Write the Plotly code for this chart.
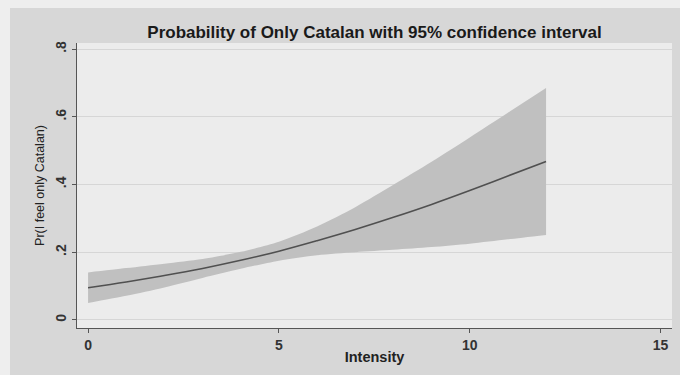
import plotly.graph_objects as go

# Predicted probability of feeling "only Catalan" by intensity, with 95% CI
intensity = [0, 1, 2, 3, 4, 5, 6, 7, 8, 9, 10, 11, 12]
prob = [0.095, 0.112, 0.131, 0.152, 0.176, 0.203, 0.234, 0.267, 0.303, 0.341, 0.382, 0.425, 0.468]
ci_upper = [0.140, 0.153, 0.166, 0.180, 0.201, 0.231, 0.276, 0.333, 0.399, 0.467, 0.539, 0.612, 0.685]
ci_lower = [0.050, 0.071, 0.096, 0.124, 0.151, 0.175, 0.191, 0.200, 0.207, 0.215, 0.225, 0.238, 0.251]

x_ticks = [0, 5, 10, 15]
y_ticks = [0, 0.2, 0.4, 0.6, 0.8]
y_tick_text = ["0", ".2", ".4", ".6", ".8"]

SANS = "Liberation Sans, Arial, sans-serif"
BAND = "#c0c0c0"
LINE = "#505050"

fig = go.Figure()

fig.add_trace(go.Scatter(
    x=intensity, y=ci_lower, mode="lines",
    line=dict(width=0, color=BAND, shape="spline", smoothing=0.8),
    hoverinfo="skip", showlegend=False,
))
fig.add_trace(go.Scatter(
    x=intensity, y=ci_upper, mode="lines",
    line=dict(width=0, color=BAND, shape="spline", smoothing=0.8),
    fill="tonexty", fillcolor=BAND,
    hoverinfo="skip", showlegend=False,
))
fig.add_trace(go.Scatter(
    x=intensity, y=prob, mode="lines",
    line=dict(width=1.6, color=LINE, shape="spline"),
    showlegend=False,
))

# light scan border along the top and left edges
fig.add_shape(type="rect", xref="paper", yref="paper",
              x0=-0.2, x1=1.2, y0=1.123, y1=1.3,
              fillcolor="#eeeeee", line=dict(width=0), layer="below")
fig.add_shape(type="rect", xref="paper", yref="paper",
              x0=-0.2, x1=-0.1126, y0=-0.3, y1=1.3,
              fillcolor="#eeeeee", line=dict(width=0), layer="below")

fig.update_layout(
    width=680, height=375,
    margin=dict(l=77, r=8, t=43, b=47),
    paper_bgcolor="#d7d7d7",
    plot_bgcolor="#ececec",
    font=dict(family=SANS, color="#222222"),
    title=dict(
        text="Probability of Only Catalan with 95% confidence interval",
        x=0.5, xref="paper", xanchor="center",
        y=1 - 32 / 375, yref="container", yanchor="middle",
        font=dict(size=17, color="#1a1a1a", family=SANS, weight="bold"),
    ),
    xaxis=dict(
        range=[-0.29, 15.3],
        tickvals=x_ticks,
        ticks="outside", ticklen=4, tickcolor="#555555",
        showline=True, linecolor="#555555", linewidth=1,
        showgrid=False, zeroline=False,
        tickfont=dict(size=14, color="#333333", family=SANS, weight="bold"),
        title=dict(text="Intensity", font=dict(size=14.5, color="#222222", family=SANS, weight="bold"), standoff=0),
    ),
    yaxis=dict(
        range=[-0.024, 0.818],
        tickvals=y_ticks, ticktext=y_tick_text,
        tickangle=-90,
        ticks="outside", ticklen=4, tickcolor="#555555",
        showline=True, linecolor="#555555", linewidth=1,
        showgrid=True, gridcolor="#d6d6d6", gridwidth=1,
        zeroline=False,
        tickfont=dict(size=14, color="#333333", family=SANS, weight="bold"),
        title=dict(text="Pr(I feel only Catalan)", font=dict(size=12.5, color="#222222", family=SANS), standoff=6),
    ),
)

fig.write_html("out.html")
